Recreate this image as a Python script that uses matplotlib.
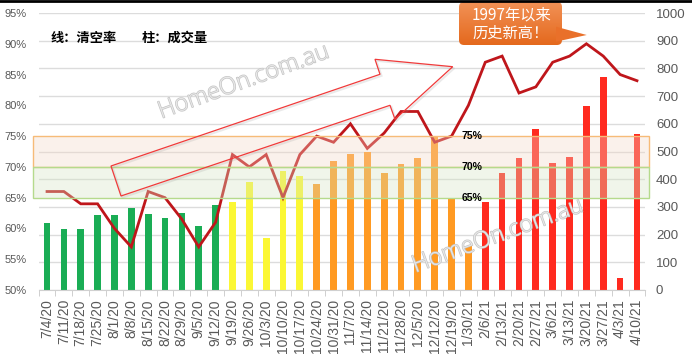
import numpy as np
import matplotlib
matplotlib.use("Agg")
import matplotlib.pyplot as plt
from matplotlib.patches import Rectangle, Polygon, FancyBboxPatch
from matplotlib.transforms import Affine2D
from matplotlib.lines import Line2D
import matplotlib.patheffects as pe

# weekly auction data
dates = ["7/4/20", "7/11/20", "7/18/20", "7/25/20", "8/1/20", "8/8/20", "8/15/20",
         "8/22/20", "8/29/20", "9/5/20", "9/12/20", "9/19/20", "9/26/20", "10/3/20",
         "10/10/20", "10/17/20", "10/24/20", "10/31/20", "11/7/20", "11/14/20",
         "11/21/20", "11/28/20", "12/5/20", "12/12/20", "12/19/20", "1/30/21",
         "2/6/21", "2/13/21", "2/20/21", "2/27/21", "3/6/21", "3/13/21", "3/20/21",
         "3/27/21", "4/3/21", "4/10/21"]
clearance = [66, 66, 64, 64, 60, 57, 66, 65, 61.5, 57, 61, 72, 70, 72, 65, 72, 75, 74,
             77, 73, 75.5, 79, 79, 74, 75, 80, 87, 88, 82, 83, 87, 88, 90, 88, 85, 84]
volume = [243, 222, 222, 270, 270, 296, 273, 261, 279, 230, 306, 317, 391, 189, 429,
          410, 381, 465, 490, 498, 424, 454, 475, 556, 332, 160, 319, 421, 475, 580,
          460, 481, 665, 770, 42, 563]
# colour group per bar: 0 green, 1 yellow, 2 orange, 3 red
group = [0] * 11 + [1] * 5 + [2] * 10 + [3] * 10
group_colors = ["#1aad55", "#fbf734", "#ff9a22", "#ff2a1f"]

W, H = 692, 357
fig = plt.figure(figsize=(W / 100, H / 100), dpi=100)
px = Affine2D().scale(1, -1).translate(0, H)  # top-left pixel coords

x = np.arange(len(dates))
ax = fig.add_axes([38.6 / W, 67 / H, 606.8 / W, 277 / H])
ax.bar(x, volume, width=0.4, color=[group_colors[g] for g in group], zorder=2)
ax.set_xlim(-0.5, len(dates) - 0.5)
ax.set_ylim(0, 1000)
ax.grid(axis="y", color="#dcdcdc", lw=1)
ax.set_axisbelow(True)
for s in ["left", "right", "top"]:
    ax.spines[s].set_visible(False)
ax.spines["bottom"].set_color("#d0d0d0")

axl = ax.twinx()
axl.plot(x, clearance, color="#bf161b", lw=2, zorder=2, solid_joinstyle="miter")
axl.set_ylim(50, 95)
for s in axl.spines.values():
    s.set_visible(False)

ax.yaxis.tick_right()
ax.set_yticks(range(0, 1001, 100))
ax.tick_params(axis="y", length=0, pad=7.6, labelsize=9.5, labelcolor="#595959")
axl.yaxis.tick_left()
axl.set_yticks(range(50, 96, 5))
axl.set_yticklabels([f"{v}%" for v in range(50, 96, 5)])
axl.tick_params(axis="y", length=0, pad=8.4, labelsize=8, labelcolor="#595959")

ax.set_xticks(x)
ax.set_xticklabels(dates, rotation=90)
ax.set_xticks(np.arange(-0.5, len(dates), 1), minor=True)
ax.tick_params(axis="x", which="major", length=0, pad=6.5, labelsize=10,
               labelcolor="#595959")
ax.tick_params(axis="x", which="minor", length=4, color="#c8c8c8")
for lab in ax.get_xticklabels() + ax.get_yticklabels() + axl.get_yticklabels():
    lab.set_fontfamily("Liberation Sans")

# 65-70 / 70-75 bands over everything
axl.add_patch(Rectangle((-0.83, 70), 36.54, 5, facecolor=(0.953, 0.851, 0.776, 0.35),
                        edgecolor="#f6bb78", lw=1, zorder=3, clip_on=False))
axl.add_patch(Rectangle((-0.83, 65), 36.54, 5, facecolor=(0.831, 0.898, 0.765, 0.35),
                        edgecolor="#b5da8c", lw=1, zorder=3, clip_on=False))
for v in [75, 70, 65]:
    axl.text(24.6, v, f"{v}%", fontsize=7.5, fontweight="bold", ha="left",
             va="center", family="Liberation Sans", zorder=5)

# legend text
fig.text(50.7, 38, "线：清空率", transform=px, family=["Noto Sans CJK SC", "DejaVu Sans"],
         fontsize=9.5, fontweight="bold", va="center")
fig.text(141.7, 38, "柱：成交量", transform=px, family=["Noto Sans CJK SC", "DejaVu Sans"],
         fontsize=9.5, fontweight="bold", va="center")

# trend arrow outline
arrow = [(111, 166), (380, 74.3), (375, 59.3), (452.7, 66.7), (395, 119.3),
         (390, 105.3), (121, 196)]
shadow = [(a + 1.5, b + 1.5) for a, b in arrow]
fig.add_artist(Polygon(shadow, closed=True, fill=False, ec="#999999", lw=1.5,
                       alpha=0.2, transform=px))
fig.add_artist(Polygon(arrow, closed=True, fill=False, ec="#f03a3a", lw=0.9,
                       transform=px))

# watermarks
for cx, cy in [(244, 82), (498, 236)]:
    fig.text(cx, cy, "HomeOn.com.au", transform=px, rotation=20, ha="center",
             va="center", fontsize=17, color="#e8e8e8", family="Open Sans",
             fontweight="light", rotation_mode="anchor",
             path_effects=[pe.withStroke(linewidth=1, foreground="#c4c4c4")])

# callout with a top-to-bottom orange gradient
fig.add_artist(Polygon([(556, 26.7), (586.7, 35), (556, 41.7)], closed=True,
                       fc="#e9702a", ec="none", transform=px))
box = FancyBboxPatch((464, 7), 93, 33, boxstyle="round,pad=5",
                     fc="#ec7632", ec="none", transform=px)
fig.add_artist(box)
grad_ax = fig.add_axes([458 / W, 1 - 46 / H, 106 / W, 45 / H])
grad_ax.axis("off")
grad = np.linspace(0, 1, 64).reshape(-1, 1)
img = grad_ax.imshow(grad, cmap=matplotlib.colors.LinearSegmentedColormap.from_list(
    "og", ["#f29257", "#e4681c"]), aspect="auto", extent=(0, 1, 0, 1), origin="upper")
img.set_clip_path(box)
box.set_visible(False)
grad_ax.add_artist(box)
fig.text(472, 24, "1997年以来\n历史新高！", transform=px, color="white", fontsize=11,
         family=["Noto Sans CJK SC", "DejaVu Sans"], ha="left", va="center",
         linespacing=1.1, zorder=10)

# top border
fig.add_artist(Line2D([0, 1], [1 - 1 / H, 1 - 1 / H], color="black", lw=2,
                      transform=fig.transFigure))

fig.savefig("out.png", dpi=100)
